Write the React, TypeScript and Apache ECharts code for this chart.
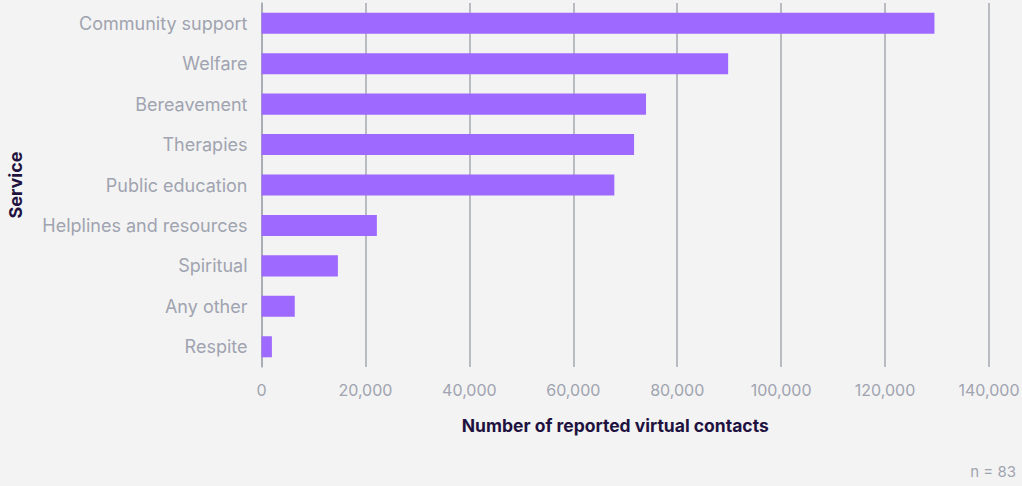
import React, { useEffect, useRef } from "react";
import * as echarts from "echarts";

const categories = [
  "Community support",
  "Welfare",
  "Bereavement",
  "Therapies",
  "Public education",
  "Helplines and resources",
  "Spiritual",
  "Any other",
  "Respite",
];
const contacts = [129500, 89800, 74000, 71700, 67900, 22200, 14700, 6400, 2000];
const xTicks = { min: 0, max: 140000, interval: 20000 };
const xAxisTitle = "Number of reported virtual contacts";
const yAxisTitle = "Service";
const footnote = "n = 83";

export default function App() {
  const ref = useRef<HTMLDivElement>(null);
  useEffect(() => {
    if (!ref.current) return;
    const chart = echarts.init(ref.current, null, { renderer: "svg" });
    const font = "Inter, 'Open Sans', sans-serif";
    chart.setOption({
      animation: false,
      backgroundColor: "#f3f3f3",
      textStyle: { fontFamily: font },
      grid: {
        left: 261.5,
        right: 33,
        top: 3,
        bottom: 119,
        containLabel: false,
        outerBoundsMode: "none",
      },
      xAxis: {
        type: "value",
        min: xTicks.min,
        max: xTicks.max,
        interval: xTicks.interval,
        name: xAxisTitle,
        nameLocation: "middle",
        nameGap: 49,
        nameTextStyle: {
          fontFamily: font,
          fontSize: 17.5,
          fontWeight: "bold",
          color: "#1f1240",
          padding: [0, 20, 0, 0],
        },
        axisLine: { show: false },
        axisTick: { show: false },
        axisLabel: {
          fontFamily: font,
          fontSize: 16,
          color: "#a0a3b0",
          margin: 15,
          formatter: (v: number) => v.toLocaleString("en-US"),
        },
        splitLine: { show: true, lineStyle: { color: "#a5a9b0", width: 1.5 } },
      },
      yAxis: {
        type: "category",
        data: categories,
        inverse: true,
        name: yAxisTitle,
        nameLocation: "middle",
        nameGap: 237.5,
        nameRotate: 90,
        nameTextStyle: {
          fontFamily: font,
          fontSize: 18,
          fontWeight: "bold",
          color: "#1f1240",
        },
        axisLine: { show: true, lineStyle: { color: "#a5a9b0", width: 1.5 } },
        axisTick: { show: false },
        axisLabel: {
          fontFamily: font,
          fontSize: 18,
          color: "#a0a3b0",
          margin: 14,
        },
      },
      series: [
        {
          type: "bar",
          data: contacts,
          barWidth: "52%",
          itemStyle: { color: "#9e69ff" },
        },
      ],
      graphic: [
        {
          type: "text",
          right: 6,
          top: 464,
          style: {
            text: footnote,
            fontFamily: font,
            fontSize: 15,
            fill: "#a0a3b0",
          },
        },
      ],
    });
    return () => chart.dispose();
  }, []);
  return (
    <div
      ref={ref}
      style={{ position: "absolute", left: 0, top: 0, width: 1022, height: 486 }}
    />
  );
}
